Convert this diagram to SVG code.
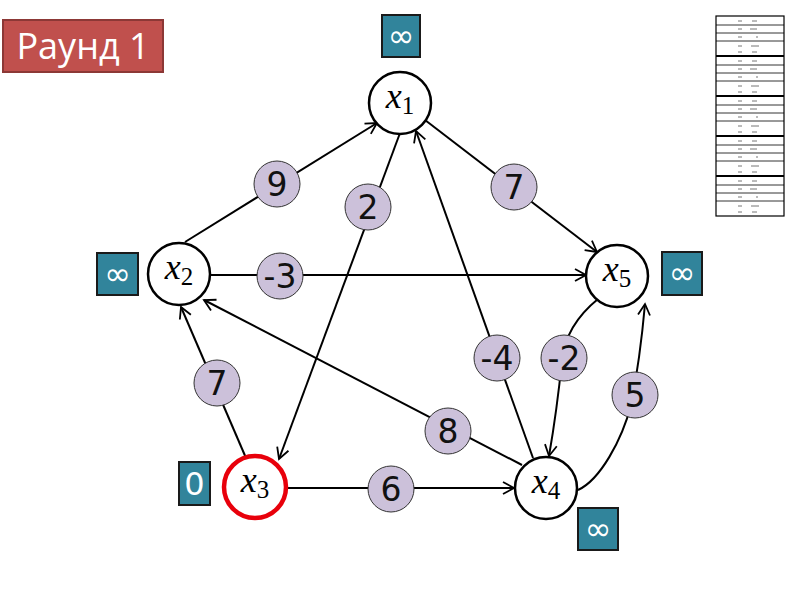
<svg xmlns="http://www.w3.org/2000/svg" width="800" height="600" viewBox="0 0 800 600">
<defs>
<style>
.node{fill:#fff;stroke:#000;stroke-width:2.5}
.start{fill:#fff;stroke:#e8000b;stroke-width:4.5}
.nt{font-family:"Liberation Serif","DejaVu Serif",serif;font-size:36px;fill:#000;text-anchor:middle}
.w{fill:#ccc1da;stroke:#333;stroke-width:1}
.wt{font-family:"DejaVu Sans","Liberation Sans",sans-serif;font-size:33px;fill:#111;text-anchor:middle}
.box{fill:#31849b;stroke:#1a1a1a;stroke-width:2}
.bt{font-family:"DejaVu Sans","Liberation Sans",sans-serif;font-size:32px;fill:#fff;text-anchor:middle}
.e{fill:none;stroke:#000;stroke-width:2}
.tl{stroke:#000;stroke-width:0.8}
.tk{stroke:#000;stroke-width:2.2}
.tm{stroke:#777;stroke-width:1}
</style>
<marker id="arr" markerUnits="userSpaceOnUse" markerWidth="16" markerHeight="16" refX="13" refY="8" orient="auto">
<path d="M2,2 L13,8 L2,14" fill="none" stroke="#000" stroke-width="1.8"/>
</marker>
</defs>
<rect width="800" height="600" fill="#fff"/>

<g id="title">
<rect x="3" y="20" width="160" height="52" fill="#c0504d" stroke="#8c3836" stroke-width="2"/>
<text x="83" y="59" font-family="'Open Sans','DejaVu Sans',sans-serif" font-size="36" fill="#fff" text-anchor="middle">Раунд 1</text>
</g>

<g id="table">
<rect x="716" y="16" width="68" height="200" fill="#fff" stroke="#000" stroke-width="1.2"/>
<g id="table-lines">
<line class="tl" x1="716" y1="25" x2="784" y2="25"/><line class="tl" x1="716" y1="33" x2="784" y2="33"/><line class="tl" x1="716" y1="41" x2="784" y2="41"/>
<line class="tk" x1="716" y1="56" x2="784" y2="56"/>
<line class="tl" x1="716" y1="65" x2="784" y2="65"/><line class="tl" x1="716" y1="73" x2="784" y2="73"/><line class="tl" x1="716" y1="81" x2="784" y2="81"/>
<line class="tk" x1="716" y1="96" x2="784" y2="96"/>
<line class="tl" x1="716" y1="105" x2="784" y2="105"/><line class="tl" x1="716" y1="113" x2="784" y2="113"/><line class="tl" x1="716" y1="121" x2="784" y2="121"/>
<line class="tk" x1="716" y1="136" x2="784" y2="136"/>
<line class="tl" x1="716" y1="145" x2="784" y2="145"/><line class="tl" x1="716" y1="153" x2="784" y2="153"/><line class="tl" x1="716" y1="161" x2="784" y2="161"/>
<line class="tk" x1="716" y1="176" x2="784" y2="176"/>
<line class="tl" x1="716" y1="185" x2="784" y2="185"/><line class="tl" x1="716" y1="193" x2="784" y2="193"/><line class="tl" x1="716" y1="201" x2="784" y2="201"/>
</g>
<g id="table-marks">
<path class="tm" d="M738,21h4M752,21h5M738,29h4M750,29h7M738,37h4M756,37h2M738,46h4M751,46h8M738,52h4M752,52h5"/>
<path class="tm" d="M738,61h4M752,61h5M738,69h4M750,69h7M738,77h4M756,77h2M738,86h4M751,86h8M738,92h4M752,92h5"/>
<path class="tm" d="M738,101h4M752,101h5M738,109h4M750,109h7M738,117h4M756,117h2M738,126h4M751,126h8M738,132h4M752,132h5"/>
<path class="tm" d="M738,141h4M752,141h5M738,149h4M750,149h7M738,157h4M756,157h2M738,166h4M751,166h8M738,172h4M752,172h5"/>
<path class="tm" d="M738,181h4M752,181h5M738,189h4M750,189h7M738,197h4M756,197h2M738,206h4M751,206h8M738,212h4M752,212h5"/>
</g>
</g>

<g id="edges">
<path class="e" d="M185,242 L377,123" marker-end="url(#arr)"/>
<path class="e" d="M400,133 L279,459" marker-end="url(#arr)"/>
<path class="e" d="M425,120 L597,252" marker-end="url(#arr)"/>
<path class="e" d="M211,275 L586,275" marker-end="url(#arr)"/>
<path class="e" d="M533,458 L416,131" marker-end="url(#arr)"/>
<path class="e" d="M598,299 Q566,325 562,360 Q557,410 549,456" marker-end="url(#arr)"/>
<path class="e" d="M578,490 C600,480 622,440 631,405 Q640,360 645,304" marker-end="url(#arr)"/>
<path class="e" d="M522,465 L204,300" marker-end="url(#arr)"/>
<path class="e" d="M246,458 L181,307" marker-end="url(#arr)"/>
<path class="e" d="M287,488 L514,488" marker-end="url(#arr)"/>
</g>

<g id="weights">
<g id="w-x2-x1"><circle class="w" cx="277" cy="184" r="23"/><text class="wt" x="277" y="196">9</text></g>
<g id="w-x1-x3"><circle class="w" cx="368" cy="207" r="23"/><text class="wt" x="368" y="219">2</text></g>
<g id="w-x1-x5"><circle class="w" cx="514" cy="187" r="23"/><text class="wt" x="514" y="199">7</text></g>
<g id="w-x2-x5"><circle class="w" cx="280" cy="276" r="23"/><text class="wt" x="280" y="288">-3</text></g>
<g id="w-x4-x1"><circle class="w" cx="497" cy="358" r="23"/><text class="wt" x="497" y="370">-4</text></g>
<g id="w-x5-x4"><circle class="w" cx="564" cy="358" r="23"/><text class="wt" x="564" y="370">-2</text></g>
<g id="w-x3-x2"><circle class="w" cx="217" cy="383" r="23"/><text class="wt" x="217" y="395">7</text></g>
<g id="w-x4-x5"><circle class="w" cx="635" cy="395" r="23"/><text class="wt" x="635" y="407">5</text></g>
<g id="w-x4-x2"><circle class="w" cx="448" cy="431" r="23"/><text class="wt" x="448" y="443">8</text></g>
<g id="w-x3-x4"><circle class="w" cx="391" cy="489" r="23"/><text class="wt" x="391" y="501">6</text></g>
</g>

<g id="x1"><circle class="node" cx="400" cy="103" r="31"/><text class="nt" x="400" y="108"><tspan font-style="italic">x</tspan><tspan font-size="25" dy="6">1</tspan></text></g>
<g id="x2"><circle class="node" cx="179" cy="274" r="31"/><text class="nt" x="179" y="279"><tspan font-style="italic">x</tspan><tspan font-size="25" dy="6">2</tspan></text></g>
<g id="x3"><circle class="start" cx="255" cy="487" r="31"/><text class="nt" x="255" y="492"><tspan font-style="italic">x</tspan><tspan font-size="25" dy="6">3</tspan></text></g>
<g id="x4"><circle class="node" cx="546" cy="488" r="31"/><text class="nt" x="546" y="493"><tspan font-style="italic">x</tspan><tspan font-size="25" dy="6">4</tspan></text></g>
<g id="x5"><circle class="node" cx="617" cy="276" r="31"/><text class="nt" x="617" y="281"><tspan font-style="italic">x</tspan><tspan font-size="25" dy="6">5</tspan></text></g>

<g id="d-x1"><rect class="box" x="382" y="15" width="38" height="42"/><text class="bt" x="401" y="47">∞</text></g>
<g id="d-x2"><rect class="box" x="97" y="253" width="41" height="42"/><text class="bt" x="117.5" y="285">∞</text></g>
<g id="d-x5"><rect class="box" x="662" y="252" width="40" height="43"/><text class="bt" x="682" y="284">∞</text></g>
<g id="d-x3"><rect class="box" x="179" y="462" width="31" height="43"/><text class="bt" x="194.5" y="495">0</text></g>
<g id="d-x4"><rect class="box" x="578" y="508" width="40" height="42"/><text class="bt" x="598" y="540">∞</text></g>
</svg>
